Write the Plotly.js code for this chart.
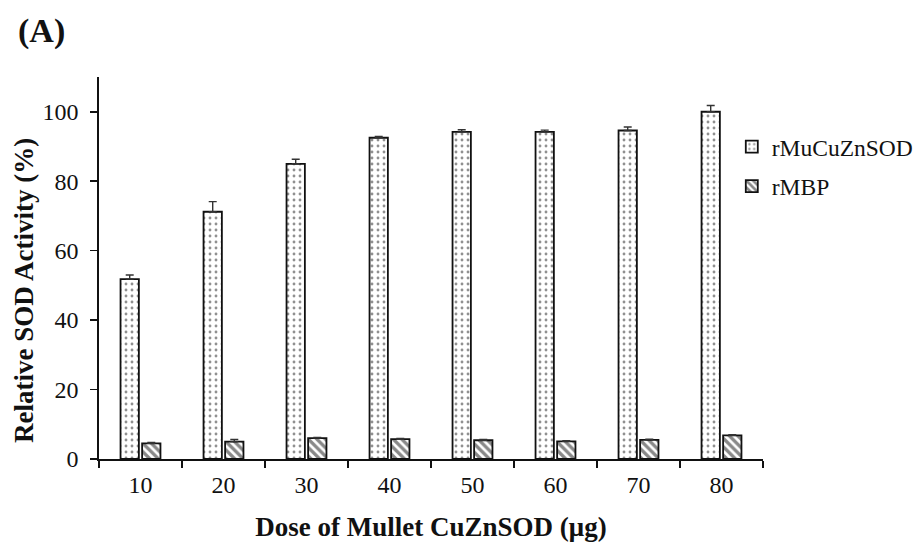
<!DOCTYPE html>
<html>
<head>
<meta charset="utf-8">
<script src="https://cdn.plot.ly/plotly-3.0.1.min.js"></script>
<style>html,body{margin:0;padding:0;background:#fff;}#chart{width:915px;height:544px;}</style>
</head>
<body>
<div id="chart"></div>
<script>
var doses = ['10','20','30','40','50','60','70','80'];
var sodValues = [51.8, 71.2, 85.0, 92.5, 94.2, 94.2, 94.6, 100.0];
var sodErrors = [1.2, 2.9, 1.3, 0.4, 0.6, 0.5, 1.0, 1.8];
var mbpValues = [4.5, 5.0, 6.0, 5.7, 5.4, 5.1, 5.5, 6.8];
var mbpErrors = [0.3, 0.6, 0.2, 0.2, 0.2, 0.2, 0.2, 0.2];
var zeros = doses.map(function(){return 0;});

var serif = 'Liberation Serif, Times New Roman, serif';

var traces = [
  {
    type: 'bar', name: 'rMuCuZnSOD', x: doses, y: sodValues, legendgroup: 'a',
    marker: {color: 'white', line: {color: '#111', width: 1.8},
      pattern: {shape: '.', fgcolor: '#222', bgcolor: 'white', size: 6, solidity: 0.18, fillmode: 'overlay'}},
    error_y: {type: 'data', array: sodErrors, arrayminus: zeros, symmetric: false, color: '#333', thickness: 1.4, width: 4}
  },
  {
    type: 'bar', name: 'rMBP', x: doses, y: mbpValues, legendgroup: 'b',
    marker: {color: 'white', line: {color: '#111', width: 1.8},
      pattern: {shape: '\\', fgcolor: '#111', bgcolor: 'white', size: 6, solidity: 0.55, fillmode: 'overlay'}},
    error_y: {type: 'data', array: mbpErrors, arrayminus: zeros, symmetric: false, color: '#333', thickness: 1.4, width: 4}
  }
];

var layout = {
  width: 915, height: 544,
  margin: {l: 99, r: 152, t: 77, b: 85, autoexpand: false},
  paper_bgcolor: 'white', plot_bgcolor: 'white',
  barmode: 'group', bargap: 0.48, bargroupgap: 0.15,
  font: {family: serif, color: '#111', size: 22},
  showlegend: true,
  legend: {x: 0.953, xanchor: 'left', y: 0.765, yanchor: 'middle', font: {family: serif, size: 23.5, color: '#111'},
    traceorder: 'grouped', tracegroupgap: 6, bgcolor: 'rgba(0,0,0,0)'},
  xaxis: {
    type: 'category', showline: true, linecolor: '#111', linewidth: 1.8,
    ticks: 'outside', tickson: 'boundaries', ticklen: 7, tickwidth: 1.6, tickcolor: '#111',
    showgrid: false, zeroline: false, ticklabelstandoff: 3,
    tickfont: {family: serif, size: 24, color: '#111'},
    title: {text: '<b>Dose of Mullet CuZnSOD (μg)</b>', font: {family: serif, size: 27, color: '#111'}, standoff: 20}
  },
  yaxis: {
    range: [0, 110], tickvals: [0, 20, 40, 60, 80, 100],
    showline: true, linecolor: '#111', linewidth: 1.8,
    ticks: 'outside', ticklen: 7, tickwidth: 1.6, tickcolor: '#111',
    showgrid: false, zeroline: false, ticklabelstandoff: 7,
    tickfont: {family: serif, size: 24, color: '#111'}
  },
  annotations: [
    {
      text: '<b>(A)</b>', xref: 'paper', yref: 'paper', x: -0.0873, y: 1.1204,
      xanchor: 'center', yanchor: 'middle', showarrow: false,
      font: {family: serif, size: 34, color: '#111'}
    },
    {
      text: '<b>Relative SOD Activity (%)</b>', xref: 'paper', yref: 'paper', x: -0.113, y: 0.4424,
      xanchor: 'center', yanchor: 'middle', showarrow: false, textangle: -90,
      font: {family: serif, size: 27, color: '#111'}
    }
  ]
};

Plotly.newPlot('chart', traces, layout, {displayModeBar: false, staticPlot: true});
</script>
</body>
</html>
